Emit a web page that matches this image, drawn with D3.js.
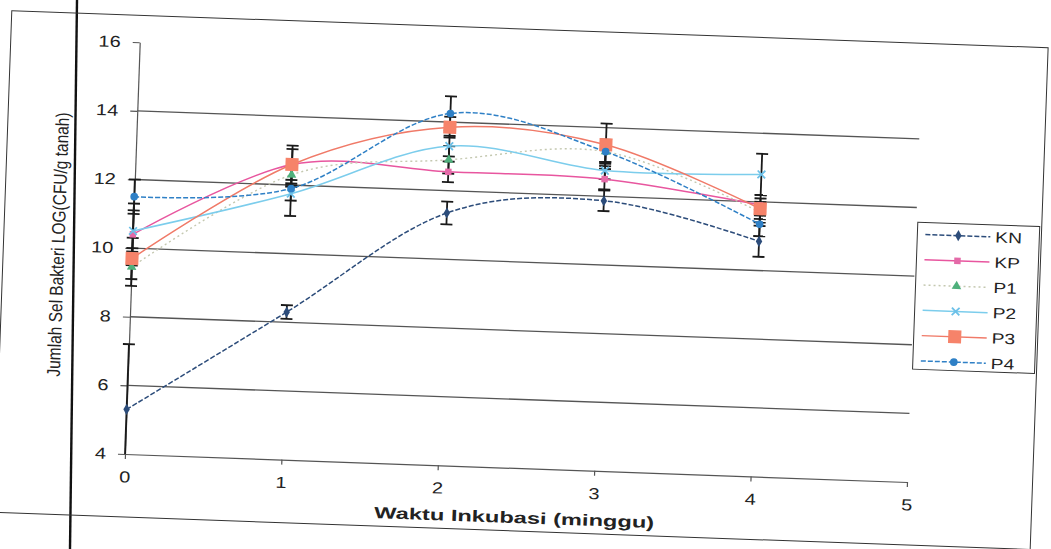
<!DOCTYPE html>
<html><head><meta charset="utf-8">
<script src="https://cdn.jsdelivr.net/npm/d3@7"></script>
<style>
body{margin:0;background:#fff}
svg{display:block}
text{font-family:"Liberation Sans",Arial,sans-serif;fill:#222}
</style>
</head><body>
<svg id="c" width="1051" height="549"></svg>
<script>
// ---- data ----
const weeks = [0, 1, 2, 3, 4];
const seriesNames = ["KN", "KP", "P1", "P2", "P3", "P4"];
const KN = [5.3, 8.3, 11.35, 11.87, 10.85];
const KP = [10.4, 12.6, 12.55, 12.5, 11.9];
const P1 = [9.45, 12.3, 12.9, 13.3, 11.7];
const P2 = [10.5, 11.75, 13.3, 12.75, 12.8];
const P3 = [9.7, 12.6, 13.85, 13.5, 11.8];
const P4 = [11.5, 11.9, 14.25, 13.3, 11.35];
const errKN = [1.9, 0.2, 0.33, 0.3, 0.45];
const errKP = [0.9, 0.45, 0.3, 0.3, 0.3];
const errP1 = [0.55, 0.3, 0.4, 0.3, 0.3];
const errP2 = [0.6, 0.2, 0.3, 0.25, 0.6];
const errP3 = [0.6, 0.55, 0.3, 0.62, 0.3];
const errP4 = [0.5, 0.8, 0.5, 0.35, 0.35];
const yTicks = [4, 6, 8, 10, 12, 14, 16];
const xTicks = [0, 1, 2, 3, 4, 5];
const gridValues = [6, 8, 10, 12, 14];
const xTitle = "Waktu Inkubasi (minggu)";
const yTitle = "Jumlah Sel Bakteri LOG(CFU/g tanah)";

const values = {KN, KP, P1, P2, P3, P4};
const errors = {KN: errKN, KP: errKP, P1: errP1, P2: errP2, P3: errP3, P4: errP4};

// ---- styles ----
const style = {
  KN: {line: "#2c4c7a", dash: "5,2", marker: d3.symbolDiamond, size: 36, fill: "#2c4c7a", stroke: "none"},
  KP: {line: "#e8569f", dash: null, marker: d3.symbolSquare, size: 42, fill: "#e46aa8", stroke: "none"},
  P1: {line: "#c4c8b0", dash: "2,3", marker: d3.symbolTriangle, size: 40, fill: "#4fb07c", stroke: "none"},
  P2: {line: "#7ccdec", dash: null, marker: d3.symbolTimes, size: 40, fill: "none", stroke: "#6cc0e8"},
  P3: {line: "#f07a68", dash: null, marker: d3.symbolSquare, size: 170, fill: "#f6836a", stroke: "none"},
  P4: {line: "#2f80c6", dash: "5,2", marker: d3.symbolCircle, size: 46, fill: "#2f80c6", stroke: "none"}
};

const svg = d3.select("#c");

// page/table border line from the scan (not rotated with chart)
svg.append("line").attr("x1", 77).attr("y1", 0).attr("x2", 70).attr("y2", 549)
  .attr("stroke", "#111").attr("stroke-width", 2.4);

// whole chart rotated slightly (scanned page)
const root = svg.append("g").attr("transform", "rotate(2.05,125,454)");

const x = d3.scaleLinear().domain([0, 5]).range([125, 907.5]);
const y = d3.scaleLinear().domain([4, 16]).range([454, 42]);

// chart area border
root.append("rect").attr("x", -4).attr("y", 15).attr("width", 1037).attr("height", 502)
  .attr("fill", "none").attr("stroke", "#333").attr("stroke-width", 1);

// gridlines
root.append("g").selectAll("line").data(gridValues).join("line")
  .attr("x1", x(0)).attr("x2", x(5))
  .attr("y1", d => y(d)).attr("y2", d => y(d))
  .attr("stroke", "#555").attr("stroke-width", 1.3);

function stretch(sel, k) {
  sel.each(function () {
    const tx = +this.getAttribute("x") || 0;
    const ty = +this.getAttribute("y") || 0;
    d3.select(this).attr("transform", `translate(${tx},${ty}) scale(${k},1) translate(${-tx},${-ty})`);
  });
}

// axes
const yAxis = root.append("g").attr("transform", `translate(${x(0)},0)`)
  .call(d3.axisLeft(y).tickValues(yTicks).tickFormat(d3.format("d")).tickSize(7).tickSizeOuter(0).tickPadding(12));
const xAxis = root.append("g").attr("transform", `translate(0,${y(4)})`)
  .call(d3.axisBottom(x).tickValues(xTicks).tickFormat(d3.format("d")).tickSize(5).tickSizeOuter(0).tickPadding(12));
[yAxis, xAxis].forEach(a => {
  a.selectAll("path,line").attr("stroke", "#555").attr("stroke-width", 1.2);
  a.selectAll("text").attr("font-size", 16).attr("font-family", "Liberation Sans, Arial, sans-serif").attr("fill", "#222");
  stretch(a.selectAll("text"), 1.25);
});

// axis titles
root.append("text").attr("x", x(2.5)).attr("y", 509).attr("text-anchor", "middle")
  .attr("font-size", 16).attr("font-weight", "bold")
  .attr("textLength", 280).attr("lengthAdjust", "spacingAndGlyphs").text(xTitle);
root.append("text").attr("transform", "translate(57,247) scale(1.2,1) rotate(-90)")
  .attr("text-anchor", "middle").attr("font-size", 15.5).text(yTitle);

// plot contents, clipped to plot area
root.append("clipPath").attr("id", "plotclip").append("rect")
  .attr("x", x(0) - 10).attr("y", y(16)).attr("width", x(5) - x(0) + 20).attr("height", y(4) - y(16));
const plot = root.append("g").attr("clip-path", "url(#plotclip)");

// error bars
seriesNames.forEach(name => {
  const g = plot.append("g");
  weeks.forEach((w, i) => {
    const v = values[name][i], e = errors[name][i];
    const cx = x(w);
    g.append("line").attr("x1", cx).attr("x2", cx).attr("y1", y(v - e)).attr("y2", y(v + e))
      .attr("stroke", "#1a1a1a").attr("stroke-width", 1.8);
    [v - e, v + e].forEach(c => g.append("line").attr("x1", cx - 6).attr("x2", cx + 6)
      .attr("y1", y(c)).attr("y2", y(c)).attr("stroke", "#1a1a1a").attr("stroke-width", 1.8));
  });
});

// lines
const lineGen = d3.line().x(d => x(d[0])).y(d => y(d[1])).curve(d3.curveCardinal.tension(0));
seriesNames.forEach(name => {
  const s = style[name];
  plot.append("path").datum(weeks.map((w, i) => [w, values[name][i]]))
    .attr("d", lineGen).attr("fill", "none").attr("stroke", s.line)
    .attr("stroke-width", name === "P1" ? 1.4 : 1.5)
    .attr("stroke-dasharray", s.dash);
});

// markers
function drawMarker(g, name, px, py) {
  const s = style[name];
  g.append("path").attr("d", d3.symbol().type(s.marker).size(s.size)())
    .attr("transform", `translate(${px},${py})`)
    .attr("fill", s.fill).attr("stroke", s.stroke).attr("stroke-width", s.stroke === "none" ? null : 1.8);
}
seriesNames.forEach(name => {
  const g = plot.append("g");
  weeks.forEach((w, i) => drawMarker(g, name, x(w), y(values[name][i])));
});

// legend
const lg = root.append("g");
lg.append("rect").attr("x", 909).attr("y", 194).attr("width", 122).attr("height", 147)
  .attr("fill", "#fff").attr("stroke", "#333").attr("stroke-width", 1);
seriesNames.forEach((name, i) => {
  const s = style[name];
  const ly = 206 + i * 25.3;
  lg.append("line").attr("x1", 917).attr("x2", 982).attr("y1", ly).attr("y2", ly)
    .attr("stroke", s.line).attr("stroke-width", 1.5).attr("stroke-dasharray", s.dash);
  drawMarker(lg, name, 950, ly);
  const t = lg.append("text").attr("x", 987).attr("y", ly + 5.5).attr("font-size", 15).text(name);
  stretch(t, 1.28);
});
</script>
</body></html>
